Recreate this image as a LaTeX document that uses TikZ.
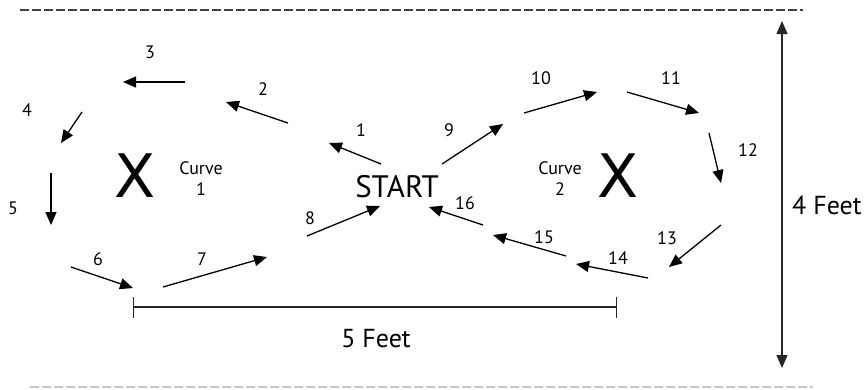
\documentclass[tikz,border=0pt]{standalone}
\usepackage{fontspec}
\setmainfont{PT Sans}
\newfontfamily\xfont{DejaVu Sans}
\usetikzlibrary{arrows.meta}
\begin{document}
\begin{tikzpicture}[x=1pt,y=-1pt,
  mv/.style={line width=1.3pt,-{Triangle[length=13pt,width=11pt]}},
  num/.style={font=\fontsize{18}{18}\selectfont, inner sep=0pt},
  crv/.style={font=\fontsize{18}{21}\selectfont, align=center, inner sep=0pt},
  bigx/.style={font=\xfont\fontsize{60}{60}\selectfont, inner sep=0pt},
  dimtxt/.style={font=\fontsize{26}{26}\selectfont, inner sep=0pt},
  edge/.style={dash pattern=on 9pt off 3pt, line width=1.2pt}]
\useasboundingbox (0,0) rectangle (866,389);

% boundary lines
\coordinate (tl) at (20,10);
\coordinate (tr) at (803,10);
\coordinate (bl) at (30,387);
\coordinate (br) at (813,387);
\draw[edge, black!75] (tl) -- (tr);
\draw[edge, black!22] (bl) -- (br);

% centre texts
\node[bigx] (x1) at (135,176) {X};
\node[bigx] (x2) at (618,176) {X};
\node[crv] (c1) at (201,179) {Curve\\1};
\node[crv] (c2) at (560,179) {Curve\\2};
\node[font=\fontsize{31}{31}\selectfont, inner sep=0pt] (start) at (397,187) {START};

% arrow coordinates
\coordinate (a1s) at (381,164);  \coordinate (a1e) at (329,143);
\coordinate (a2s) at (288,123);  \coordinate (a2e) at (226,102);
\coordinate (a3s) at (185,82);   \coordinate (a3e) at (123,82);
\coordinate (a4s) at (82,112);   \coordinate (a4e) at (61,143);
\coordinate (a5s) at (51,173);   \coordinate (a5e) at (51,225);
\coordinate (a6s) at (71,267);   \coordinate (a6e) at (133,288);
\coordinate (a7s) at (163,287);  \coordinate (a7e) at (267,257);
\coordinate (a8s) at (307,236);  \coordinate (a8e) at (380,206);
\coordinate (a9s) at (442,164);  \coordinate (a9e) at (503,124);
\coordinate (a10s) at (524,113); \coordinate (a10e) at (597,92);
\coordinate (a11s) at (627,92);  \coordinate (a11e) at (699,113);
\coordinate (a12s) at (709,133); \coordinate (a12e) at (721,183);
\coordinate (a13s) at (721,225); \coordinate (a13e) at (669,267);
\coordinate (a14s) at (648,278); \coordinate (a14e) at (576,264);
\coordinate (a15s) at (566,256); \coordinate (a15e) at (493,235);
\coordinate (a16s) at (483,225); \coordinate (a16e) at (429,207);

\foreach \i in {1,...,16} {\draw[mv] (a\i s) -- (a\i e);}

% step numbers
\node[num] (n1) at (361,130) {1};
\node[num] (n2) at (263,89) {2};
\node[num] (n3) at (150,52) {3};
\node[num] (n4) at (27,110) {4};
\node[num] (n5) at (13,208) {5};
\node[num] (n6) at (98,259) {6};
\node[num] (n7) at (202,259) {7};
\node[num] (n8) at (310,218) {8};
\node[num] (n9) at (449,130) {9};
\node[num] (n10) at (541,78) {10};
\node[num] (n11) at (671,78) {11};
\node[num] (n12) at (748,150) {12};
\node[num] (n13) at (667,238) {13};
\node[num] (n14) at (618,258) {14};
\node[num] (n15) at (544,237) {15};
\node[num] (n16) at (465,203) {16};

% dimensions
\coordinate (d5l) at (133,307);
\coordinate (d5r) at (617,307);
\draw[line width=1.3pt, black!85, {Bar[width=21pt]}-{Bar[width=21pt]}] (d5l) -- (d5r);
\node[dimtxt] (f5) at (376,339) {5 Feet};

\coordinate (d4t) at (782,21);
\coordinate (d4b) at (782,368);
\draw[line width=1.3pt, black!85, {Triangle[length=13pt,width=11pt]}-{Triangle[length=13pt,width=11pt]}] (d4t) -- (d4b);
\node[dimtxt, anchor=west] (f4) at (792,205) {4 Feet};
\end{tikzpicture}
\end{document}
